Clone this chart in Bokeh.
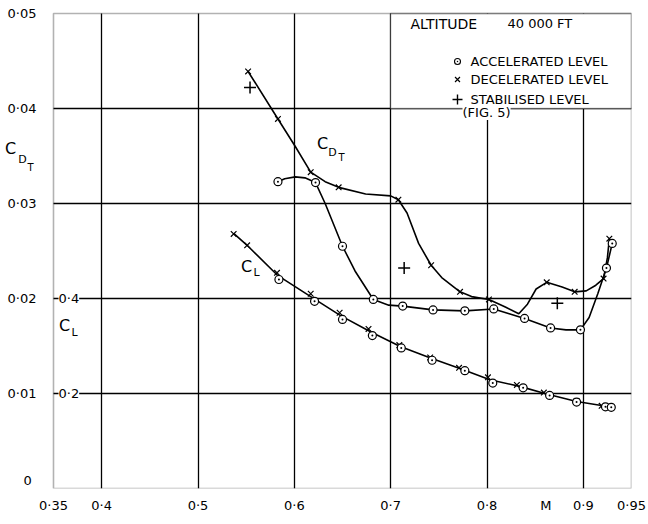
from bokeh.plotting import figure
from bokeh.models import Range1d, FixedTicker, BoxAnnotation, Label
from bokeh.embed import file_html
from bokeh.resources import INLINE

# ---------------- data ----------------
X_TICKS = [0.35, 0.4, 0.5, 0.6, 0.7, 0.8, 0.9, 0.95]
X_LABELS = ["0·35", "0·4", "0·5", "0·6", "0·7", "0·8", "0·9", "0·95"]
M_TITLE_POS = 0.861          # where the "M" axis title sits among the x labels
CD_TICKS = [0.05, 0.04, 0.03, 0.02, 0.01]
CD_LABELS = ["0·05", "0·04", "0·03", "0·02", "0·01"]
CL_TICKS = [0.4, 0.2]
CL_LABELS = ["0·4", "0·2"]

# C_DT, decelerated level (x) - curve trace and points
dec_cd_curve_m = [0.552, 0.583, 0.601, 0.617, 0.632, 0.646, 0.674, 0.700, 0.708, 0.717,
                  0.729, 0.742, 0.753, 0.772, 0.784, 0.802, 0.819, 0.833, 0.842, 0.851,
                  0.862, 0.878, 0.891, 0.903, 0.913, 0.921, 0.925, 0.927]
dec_cd_curve_v = [0.0439, 0.0389, 0.0360, 0.0333, 0.0323, 0.0317, 0.0310, 0.0308, 0.0304, 0.0290,
                  0.0258, 0.0235, 0.0222, 0.0207, 0.0202, 0.0199, 0.0191, 0.0184, 0.0194, 0.0210,
                  0.0217, 0.0212, 0.0207, 0.0208, 0.0214, 0.0221, 0.0243, 0.0263]
dec_cd_m = [0.552, 0.583, 0.617, 0.646, 0.708, 0.742, 0.772, 0.802, 0.862, 0.891, 0.921, 0.927]
dec_cd_v = [0.0439, 0.0389, 0.0333, 0.0317, 0.0304, 0.0235, 0.0207, 0.0199, 0.0217, 0.0207, 0.0221, 0.0263]

# C_DT, accelerated level (o)
acc_cd_curve_m = [0.583, 0.590, 0.601, 0.611, 0.622, 0.632, 0.642, 0.650, 0.663, 0.682,
                  0.698, 0.7125, 0.744, 0.777, 0.807, 0.823, 0.839, 0.866, 0.882, 0.897,
                  0.906, 0.915, 0.924, 0.930]
acc_cd_curve_v = [0.0323, 0.0326, 0.0328, 0.0327, 0.0322, 0.0300, 0.0275, 0.0255, 0.0229, 0.0199,
                  0.0193, 0.0192, 0.0188, 0.0187, 0.0189, 0.0184, 0.0179, 0.0169, 0.0167, 0.0167,
                  0.0180, 0.0205, 0.0232, 0.0258]
acc_cd_m = [0.583, 0.622, 0.650, 0.682, 0.7125, 0.744, 0.777, 0.807, 0.839, 0.866, 0.897, 0.924, 0.930]
acc_cd_v = [0.0323, 0.0322, 0.0255, 0.0199, 0.0192, 0.0188, 0.0187, 0.0189, 0.0179, 0.0169, 0.0167, 0.0232, 0.0258]

# C_DT, stabilised level (+)
stab_m = [0.554, 0.714, 0.873]
stab_v = [0.0422, 0.0232, 0.0195]

# C_L curve trace and points
cl_curve_m = [0.537, 0.551, 0.583, 0.617, 0.648, 0.679, 0.710, 0.742, 0.774, 0.803, 0.834, 0.862, 0.893, 0.927]
cl_curve_v = [0.537, 0.512, 0.448, 0.404, 0.364, 0.330, 0.299, 0.274, 0.251, 0.229, 0.215, 0.199, 0.183, 0.172]
cl_dec_m = [0.537, 0.551, 0.582, 0.617, 0.647, 0.677, 0.709, 0.741, 0.771, 0.801, 0.831, 0.859, 0.893, 0.919]
cl_dec_v = [0.536, 0.512, 0.454, 0.410, 0.370, 0.336, 0.302, 0.276, 0.254, 0.234, 0.218, 0.202, 0.184, 0.174]
cl_acc_m = [0.584, 0.621, 0.650, 0.681, 0.711, 0.743, 0.777, 0.806, 0.8375, 0.865, 0.893, 0.923, 0.929]
cl_acc_v = [0.440, 0.394, 0.356, 0.322, 0.296, 0.270, 0.248, 0.222, 0.212, 0.196, 0.182, 0.172, 0.171]

FONT = "DejaVu Sans"

# ---------------- geometry ----------------
W, H = 648, 516
X0, X1 = 0.35, 0.95          # drawn plot box, Mach
Y0, Y1 = 0.0, 0.05           # drawn plot box, C_DT
BOX_L, BOX_T = 53, 13        # pixel position of the box's left / top edge
BOX_R, BOX_B = 631, 488      # pixel position of the box's right / bottom edge
xs = (X1 - X0) / (BOX_R - BOX_L)
ys = (Y1 - Y0) / (BOX_B - BOX_T)
x_start = X0 - BOX_L * xs
y_end = Y1 + BOX_T * ys
CL_PER_CD = 20.0

p = figure(width=W, height=H,
           x_range=Range1d(x_start, X1), y_range=Range1d(Y0, y_end),
           output_backend="svg", toolbar_location=None,
           min_border_left=0, min_border_right=W - BOX_R, min_border_top=0,
           min_border_bottom=H - BOX_B)
p.extra_y_ranges = {"cl": Range1d(Y0 * CL_PER_CD, y_end * CL_PER_CD)}
p.background_fill_color = "white"
p.border_fill_color = "white"
p.outline_line_color = None

p.yaxis.visible = False
ax = p.xaxis[0]
ticks = X_TICKS + [M_TITLE_POS]
labels = X_LABELS + ["M"]
ax.ticker = FixedTicker(ticks=ticks)
ax.major_label_overrides = {t: s for t, s in zip(ticks, labels)}
ax.axis_line_color = None
ax.major_tick_line_color = None
ax.major_tick_out = 0
ax.major_tick_in = 0
ax.minor_tick_line_color = None
ax.major_label_standoff = 9
ax.major_label_text_font = FONT
ax.major_label_text_font_size = "13px"
ax.major_label_text_color = "black"

p.xgrid.ticker = FixedTicker(ticks=X_TICKS[1:-1])
p.ygrid.ticker = FixedTicker(ticks=CD_TICKS[1:])
for g, cb in ((p.xgrid[0], (Y0, Y1)), (p.ygrid[0], (X0, X1))):
    g.grid_line_color = "black"
    g.grid_line_width = 1.3
    g.grid_line_alpha = 1.0
    try:
        g.cross_bounds = cb
    except Exception:
        pass

# legend box (covers grid, below glyphs)
p.add_layout(BoxAnnotation(left=0.7, right=X1, bottom=0.04, top=Y1,
                           fill_color="white", fill_alpha=1.0,
                           line_color="black", line_width=1.3, level="underlay"))
# plot border
p.add_layout(BoxAnnotation(left=X0, right=X1, bottom=Y0, top=Y1,
                           fill_alpha=0.0, line_color="black", line_width=1.6))

LW = 1.6
p.line(dec_cd_curve_m, dec_cd_curve_v, line_color="black", line_width=LW)
p.line(acc_cd_curve_m, acc_cd_curve_v, line_color="black", line_width=LW)
p.line(cl_curve_m, cl_curve_v, line_color="black", line_width=LW, y_range_name="cl")

p.scatter(dec_cd_m, dec_cd_v, marker="x", size=8, line_color="black", line_width=1.2)
p.scatter(acc_cd_m, acc_cd_v, marker="circle_dot", size=8, line_color="black",
          fill_color="white", line_width=1.2)
p.scatter(stab_m, stab_v, marker="cross", size=12, line_color="black", line_width=1.5)
p.scatter(cl_dec_m, cl_dec_v, marker="x", size=8, line_color="black", line_width=1.2,
          y_range_name="cl")
p.scatter(cl_acc_m, cl_acc_v, marker="circle_dot", size=8, line_color="black",
          fill_color="white", line_width=1.2, y_range_name="cl")


def lab(x, y, text, size="13px", align="left", baseline="middle", bg=None,
        y_range_name="default"):
    kw = dict(x=x, y=y, text=text, text_font=FONT, text_font_size=size,
              text_align=align, text_baseline=baseline, text_color="black",
              y_range_name=y_range_name)
    if bg:
        kw["background_fill_color"] = bg
        kw["background_fill_alpha"] = 1.0
    p.add_layout(Label(**kw))


def px(xp):   # pixel column -> Mach (for placing texts)
    return x_start + xp * xs


def py(yp):   # pixel row -> C_DT (for placing texts)
    return y_end - yp * ys


# C_DT tick labels (left aligned as in the drawing)
for v, s in zip(CD_TICKS, CD_LABELS):
    lab(px(7), v, s)
lab(px(23), py(480), "0")
# C_L tick labels inside the box
for v, s in zip(CL_TICKS, CL_LABELS):
    lab(px(58), v, s, bg="white", y_range_name="cl")

# axis symbols
lab(px(10), py(148), "C", size="16px", align="center")
lab(px(22), py(159), "D", size="11px", align="center")
lab(px(30), py(167), "T", size="10px", align="center")
lab(px(64), py(325), "C", size="16px", align="center")
lab(px(74), py(332), "L", size="11px", align="center")

# curve labels
lab(px(322), py(143), "C", size="16px", align="center")
lab(px(332), py(152), "D", size="11px", align="center")
lab(px(341), py(157), "T", size="10px", align="center")
lab(px(246), py(266), "C", size="16px", align="center")
lab(px(256), py(272), "L", size="11px", align="center")

# legend
lab(px(410), py(23), "ALTITUDE", size="14px")
lab(px(507), py(23), "40 000   FT", size="13px")
p.scatter([px(457)], [py(61)], marker="circle_dot", size=6, line_color="black",
          fill_color="white", line_width=1.1)
p.scatter([px(457)], [py(79)], marker="x", size=7, line_color="black", line_width=1.2)
p.scatter([px(457)], [py(99)], marker="cross", size=10, line_color="black", line_width=1.4)
lab(px(470), py(61), "ACCELERATED  LEVEL", size="13px")
lab(px(470), py(79), "DECELERATED  LEVEL", size="13px")
lab(px(470), py(99), "STABILISED  LEVEL", size="13px")
lab(px(462), py(112), "(FIG. 5)", size="13px", bg="white")

open("out.html", "w").write(file_html(p, INLINE))
